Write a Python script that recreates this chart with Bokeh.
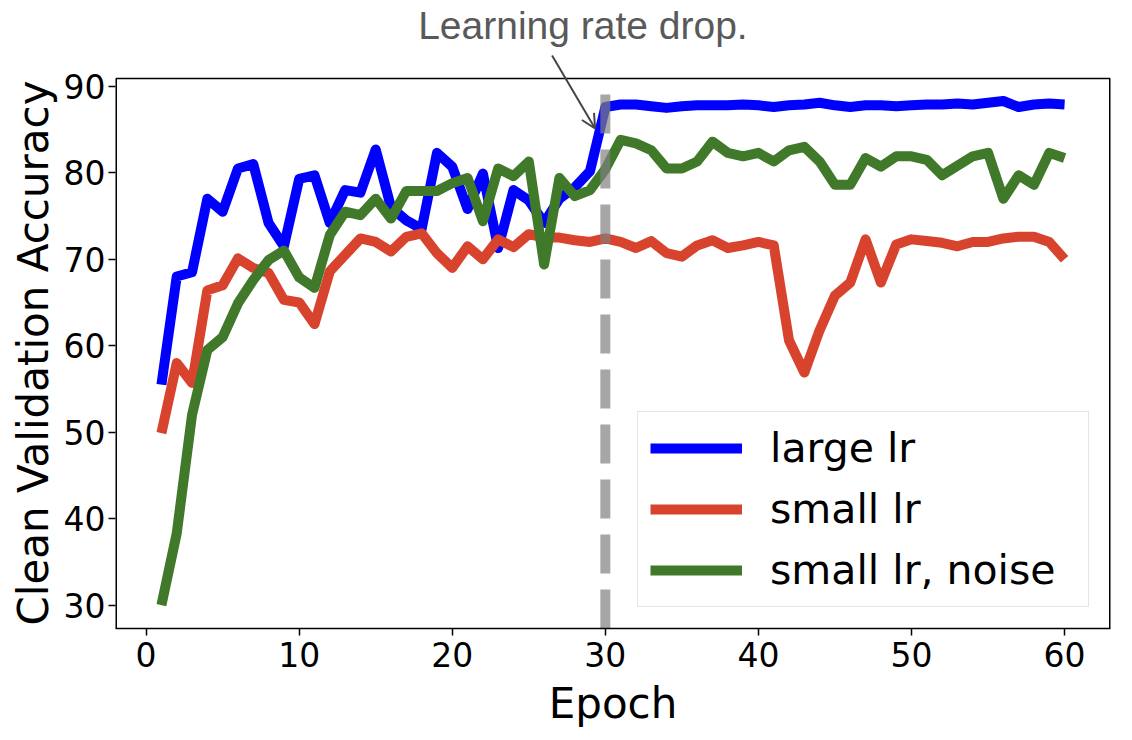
from bokeh.plotting import figure
from bokeh.models import Range1d, FixedTicker, Label, Arrow, OpenHead, Title
from bokeh.embed import file_html
from bokeh.resources import INLINE

# ---------------- data ----------------
epochs = list(range(1, 61))

large_lr = [55.5, 68.0, 68.5, 77.0, 75.5, 80.5, 81.0, 74.2, 71.5, 79.3,
            79.7, 74.2, 78.0, 77.7, 82.7, 76.0, 74.5, 73.5, 82.3, 80.7,
            75.8, 79.9, 71.3, 78.0, 76.8, 74.2, 77.0, 78.3, 80.2, 87.6,
            87.9, 87.9, 87.7, 87.5, 87.7, 87.8, 87.8, 87.8, 87.9, 87.8,
            87.6, 87.8, 87.9, 88.1, 87.8, 87.6, 87.8, 87.8, 87.7, 87.8,
            87.9, 87.9, 88.0, 87.9, 88.1, 88.3, 87.6, 87.9, 88.0, 87.9]

small_lr = [49.9, 58.0, 55.7, 66.4, 67.0, 70.1, 69.0, 68.4, 65.3, 65.0,
            62.5, 68.6, 70.5, 72.4, 72.0, 70.9, 72.6, 73.0, 70.7, 69.0,
            71.5, 70.0, 72.3, 71.4, 72.9, 72.5, 72.5, 72.2, 72.0, 72.4,
            72.0, 71.3, 72.1, 70.7, 70.3, 71.6, 72.2, 71.3, 71.6, 72.0,
            71.6, 60.6, 56.9, 61.8, 65.8, 67.3, 72.3, 67.3, 71.7, 72.3,
            72.1, 71.9, 71.5, 72.0, 72.0, 72.4, 72.6, 72.6, 72.0, 70.0]

small_lr_noise = [30.0, 38.3, 52.0, 59.5, 61.0, 64.9, 67.6, 69.9, 71.0, 67.9,
                  66.7, 72.8, 75.5, 75.1, 77.0, 74.7, 77.9, 77.9, 77.9, 78.8,
                  79.4, 74.4, 80.5, 79.6, 81.3, 69.4, 79.4, 77.3, 78.0, 80.4,
                  83.8, 83.4, 82.6, 80.5, 80.5, 81.3, 83.6, 82.3, 81.9, 82.3,
                  81.3, 82.6, 83.0, 81.3, 78.6, 78.6, 81.7, 80.7, 81.9, 81.9,
                  81.5, 79.7, 80.8, 81.9, 82.3, 77.0, 79.7, 78.6, 82.3, 81.7]

series_labels = ["large lr", "small lr", "small lr, noise"]
series_colors = ["#0000ff", "#d8432e", "#40792a"]

x_ticks = [0, 10, 20, 30, 40, 50, 60]
y_ticks = [30, 40, 50, 60, 70, 80, 90]

lr_drop_epoch = 30
annotation_text = "Learning rate drop."
x_label = "Epoch"
y_label = "Clean Validation Accuracy"

# axes box (data limits) and extra head-room above it for the annotation
x_lo, x_hi = -2.0, 63.0
y_lo, y_box_top = 27.3, 90.9
y_canvas_top = 99.92

# ---------------- figure ----------------
p = figure(width=1116, height=738, output_backend="svg", toolbar_location=None,
           x_range=Range1d(x_lo, x_hi), y_range=Range1d(y_lo, y_canvas_top),
           min_border_left=115, min_border_right=6,
           min_border_top=0, min_border_bottom=110)

p.xgrid.visible = False
p.ygrid.visible = False
p.outline_line_color = None
p.background_fill_color = "white"
p.border_fill_color = "white"

for ax in (p.xaxis[0], p.yaxis[0]):
    ax.axis_line_width = 1.5
    ax.axis_line_color = "black"
    ax.major_tick_out = 7
    ax.major_tick_in = 0
    ax.major_tick_line_width = 1.5
    ax.minor_tick_line_color = None
    ax.major_label_text_font = "DejaVu Sans"
    ax.major_label_text_font_size = "33px"
    ax.major_label_text_color = "black"
    ax.major_label_standoff = 3
    ax.axis_label_text_font = "DejaVu Sans"
    ax.axis_label_text_font_size = "42px"
    ax.axis_label_text_font_style = "normal"
    ax.axis_label_text_color = "black"

p.xaxis.major_label_standoff = 6
p.xaxis.axis_label_standoff = 9
p.yaxis.axis_line_color = None
p.xaxis.ticker = FixedTicker(ticks=x_ticks)
p.yaxis.ticker = FixedTicker(ticks=y_ticks)
p.xaxis.axis_label = x_label

# y label as a left-side title so it can be aligned to the axes box
p.add_layout(Title(text=y_label, align="left", offset=3, standoff=6,
                   text_font="DejaVu Sans", text_font_size="42px",
                   text_font_style="normal", text_color="black"), "left")

# axes box: top, left and right edges
p.segment(x0=[x_lo, x_lo, x_hi], y0=[y_box_top, y_lo, y_lo],
          x1=[x_hi, x_lo, x_hi], y1=[y_box_top, y_box_top, y_box_top],
          line_color="black", line_width=[1.5, 3, 3])

for ys, lab, col in zip([large_lr, small_lr, small_lr_noise], series_labels, series_colors):
    p.line(epochs, ys, line_color=col, line_width=10, line_join="round",
           legend_label=lab)

# learning-rate-drop dashed line (drawn on top, semi transparent)
p.line([lr_drop_epoch, lr_drop_epoch], [y_lo, y_box_top], line_color="gray",
       line_alpha=0.7, line_width=10, line_dash="39 16")

# annotation text + arrow
p.add_layout(Label(x=17.77, y=97.0, text=annotation_text,
                   text_font="Liberation Sans", text_font_size="39px",
                   text_color="#595959", text_align="left",
                   text_baseline="alphabetic"))
p.add_layout(Arrow(x_start=26.52, y_start=93.56, x_end=29.33, y_end=85.12,
                   line_color="#444444", line_width=2,
                   end=OpenHead(size=14, line_color="#444444", line_width=2)))

# legend
lg = p.legend[0]
lg.location = (522, 21)
lg.label_text_font = "DejaVu Sans"
lg.label_text_font_size = "41px"
lg.label_text_color = "black"
lg.glyph_width = 92
lg.glyph_height = 48
lg.label_height = 48
lg.label_width = 306
lg.label_standoff = 28
lg.spacing = 13
lg.padding = 12
lg.margin = 0
lg.border_line_color = "#cccccc"
lg.border_line_width = 1.5
lg.background_fill_alpha = 0.8

open("out.html", "w").write(file_html(p, INLINE))
